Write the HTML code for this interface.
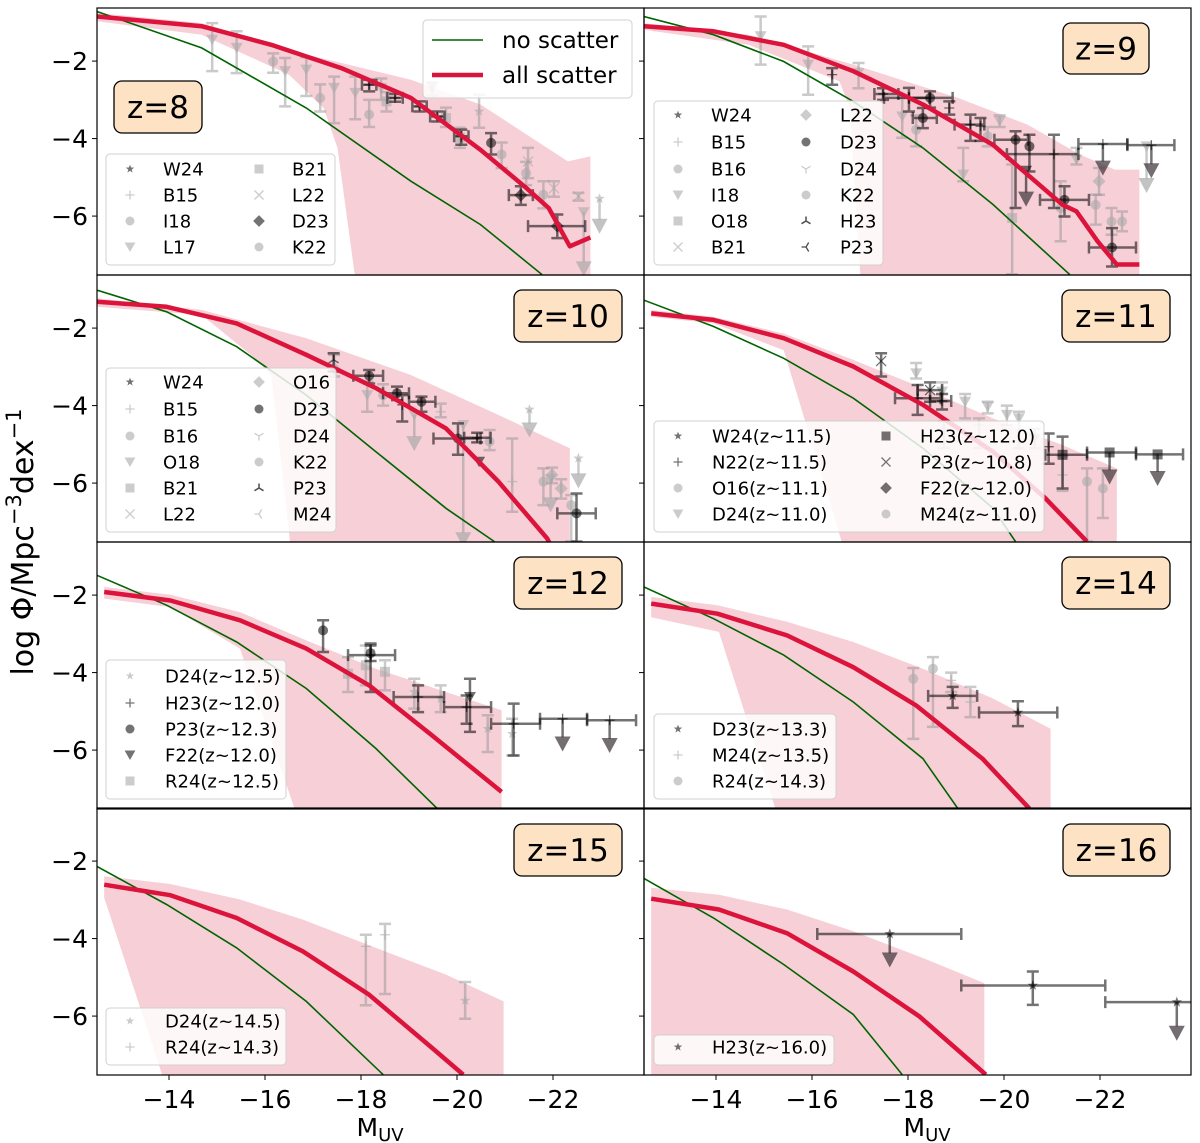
<!DOCTYPE html>
<html><head><meta charset="utf-8"><style>
html,body{margin:0;padding:0;background:#fff}
svg{display:block;font-family:"DejaVu Sans","Liberation Sans",sans-serif}
</style></head><body>
<svg id="fig" width="1200" height="1143" viewBox="0 0 1200 1143" xmlns="http://www.w3.org/2000/svg"></svg>
<script>
// ---------- data ----------
const xTicks = [-14,-16,-18,-20,-22];
const xTickLabels = ["−14","−16","−18","−20","−22"];
const yTicks = [-2,-4,-6];
const yTickLabels = ["−2","−4","−6"];
const redshifts = [8,9,10,11,12,14,15,16];

const red8M=[-12.5,-14.68,-16.13,-17.59,-19.04,-20.49,-21.44,-21.91,-22.35,-22.78];
const red8L=[-0.85,-1.10,-1.58,-2.18,-2.95,-4.29,-5.27,-5.79,-6.78,-6.55];
const grn8M=[-12.0,-12.5,-14.68,-16.86,-19.04,-20.49,-21.77];
const grn8L=[-0.4,-0.72,-1.66,-3.21,-5.10,-6.22,-7.51];
const upp8M=[-12.5,-14.68,-16.86,-19.04,-20.49,-22.31,-22.78,-22.78];
const upp8L=[-0.76,-1.02,-1.83,-2.48,-3.12,-4.59,-4.46,-7.6];
const low8M=[-12.5,-14.68,-16.5,-17.22,-17.51,-17.88];
const low8L=[-0.97,-1.32,-2.35,-3.21,-4.24,-7.6];

const red9M=[-12.5,-13.95,-15.41,-16.86,-18.31,-19.77,-20.49,-21.22,-21.51,-21.95,-22.35,-22.82];
const red9L=[-1.10,-1.23,-1.58,-2.26,-3.12,-4.16,-4.93,-5.71,-5.88,-6.65,-7.25,-7.25];
const grn9M=[-12.5,-13.95,-15.41,-16.86,-18.31,-19.77,-21.37];
const grn9L=[-0.85,-1.32,-2.01,-3.04,-4.24,-5.70,-7.51];
const upp9M=[-12.5,-14.68,-16.86,-19.04,-20.49,-21.58,-22.31,-22.82,-22.82];
const upp9L=[-1.02,-1.32,-2.09,-2.95,-3.64,-4.41,-4.80,-4.80,-7.6];
const low9M=[-12.5,-14.68,-16.57,-16.79,-17.01];
const low9L=[-1.19,-1.58,-2.52,-3.21,-7.6];

const red10M=[-12.5,-13.95,-15.41,-16.86,-18.31,-19.77,-20.86,-21.88,-21.95];
const red10L=[-1.32,-1.45,-1.88,-2.69,-3.55,-4.59,-5.96,-7.43,-7.6];
const grn10M=[-12.5,-13.95,-15.41,-16.86,-18.31,-19.77,-20.78];
const grn10L=[-1.02,-1.58,-2.48,-3.73,-5.19,-6.65,-7.51];
const upp10M=[-12.5,-14.68,-16.86,-19.04,-20.86,-22.35,-22.35];
const upp10L=[-1.23,-1.53,-2.26,-3.21,-4.24,-5.10,-7.6];
const low10M=[-12.5,-14.68,-15.7,-16.13,-16.53];
const low10L=[-1.45,-1.66,-2.69,-3.21,-7.6];

const red11M=[-12.65,-13.95,-15.41,-16.86,-18.31,-19.77,-20.86,-21.73];
const red11L=[-1.62,-1.79,-2.26,-2.99,-3.98,-5.19,-6.39,-7.51];
const grn11M=[-12.5,-13.95,-15.41,-16.86,-18.31,-19.77,-20.24];
const grn11L=[-1.28,-1.96,-2.78,-3.81,-5.10,-6.65,-7.51];
const upp11M=[-12.65,-13.95,-15.41,-16.86,-18.31,-19.77,-21.22,-22.35,-22.35];
const upp11L=[-1.53,-1.71,-2.14,-2.82,-3.55,-4.33,-5.02,-5.62,-7.6];
const low11M=[-12.65,-13.95,-15.41,-16.64];
const low11L=[-1.71,-1.88,-2.57,-7.6];

const red12M=[-12.65,-14.03,-15.48,-16.86,-18.17,-19.48,-20.93];
const red12L=[-1.92,-2.14,-2.65,-3.38,-4.33,-5.62,-7.08];
const grn12M=[-12.5,-13.95,-15.41,-16.86,-18.31,-19.59];
const grn12L=[-1.49,-2.26,-3.21,-4.41,-5.96,-7.51];
const upp12M=[-12.65,-14.03,-15.48,-16.86,-18.31,-19.77,-20.93,-20.93];
const upp12L=[-1.79,-1.99,-2.44,-3.17,-3.90,-4.50,-4.97,-7.6];
const low12M=[-12.65,-14.03,-15.48,-16.64];
const low12L=[-2.09,-2.31,-3.38,-7.6];

const red14M=[-12.65,-14.03,-15.48,-16.86,-18.17,-19.55,-20.53];
const red14L=[-2.22,-2.48,-3.04,-3.86,-4.85,-6.22,-7.51];
const grn14M=[-12.5,-13.95,-15.41,-16.86,-18.31,-19.04];
const grn14L=[-1.79,-2.61,-3.55,-4.76,-6.22,-7.51];
const upp14M=[-12.65,-14.03,-15.48,-16.86,-18.31,-19.77,-20.97,-20.97];
const upp14L=[-2.05,-2.26,-2.69,-3.21,-3.90,-4.67,-5.45,-7.6];
const low14M=[-12.65,-14.06,-15.26];
const low14L=[-2.57,-2.95,-7.6];

const red15M=[-12.65,-14.03,-15.41,-16.79,-18.17,-19.48,-20.13];
const red15L=[-2.61,-2.88,-3.47,-4.33,-5.45,-6.82,-7.51];
const grn15M=[-12.5,-13.95,-15.41,-16.86,-18.46];
const grn15L=[-2.14,-3.12,-4.24,-5.62,-7.51];
const upp15M=[-12.65,-14.03,-15.48,-16.79,-18.31,-19.77,-20.97,-20.97];
const upp15L=[-2.39,-2.59,-2.99,-3.51,-4.24,-4.93,-5.62,-7.6];
const low15M=[-12.65,-12.72,-13.88];
const low15L=[-2.95,-3.21,-7.6];

const red16M=[-12.65,-14.06,-15.48,-16.86,-18.24,-19.62];
const red16L=[-2.97,-3.25,-3.86,-4.85,-6.01,-7.51];
const grn16M=[-12.5,-13.95,-15.41,-16.86,-17.88];
const grn16L=[-2.45,-3.47,-4.67,-5.96,-7.51];
const upp16M=[-12.65,-14.06,-15.48,-16.86,-18.31,-19.59,-19.59];
const upp16L=[-2.69,-2.87,-3.25,-3.81,-4.50,-5.15,-7.6];
const low16M=[-12.65,-12.65];
const low16L=[-2.69,-7.6];

// points: [M, logPhi, yLow, yHigh, xLeft, xRight, marker, tone, upperLimit]
const pts8=[[-14.9,-1.45,-2.26,-1.02,0,0,'v','g',0],[-15.41,-1.66,-2.31,-1.23,0,0,'v','g',0],[-16.17,-2.01,-2.3,-1.8,0,0,'o','g',0],[-16.42,-2.26,-3.17,-1.92,0,0,'v','g',0],[-16.86,-2.22,-2.9,-1.9,0,0,'v','g',0],[-17.15,-2.95,-3.3,-2.6,0,0,'o','g',0],[-17.44,-2.69,-3.6,-2.4,0,0,'v','g',0],[-17.88,-2.82,-3.5,-2.4,0,0,'v','g',0],[-18.17,-3.38,-3.7,-3.0,0,0,'o','g',0],[-18.42,-2.69,-3.0,-2.45,0,0,'v','g',0],[-18.53,-3.04,-3.3,-2.8,0,0,'s','g',0],[-19.48,-2.69,-2.9,-2.55,0,0,'v','g',0],[-19.77,-3.47,-3.7,-3.2,0,0,'s','g',0],[-20.06,-3.98,-4.24,-3.72,0,0,'s','g',0],[-20.46,-3.3,-3.72,-2.87,0,0,'*','g',0],[-20.93,-4.41,-4.76,-4.1,0,0,'o','g',0],[-21.48,-4.59,-5.02,-4.24,0,0,'x','g',0],[-21.44,-4.89,-5.2,-4.6,0,0,'o','g',0],[-21.8,-5.45,-5.8,-5.1,0,0,'h','g',0],[-22.02,-5.28,-5.5,-5.1,0,0,'x','g',0],[-22.53,-5.49,-5.6,-5.4,0,0,'x','g',0],[-22.64,-5.9,-7.4,0,0,0,'v','g',1],[-22.97,-5.55,-6.3,0,0,0,'*','g',1],
[-18.17,-2.61,-2.78,-2.48,-18.02,-18.32,'+','d',0],[-18.71,-2.95,-3.05,-2.85,-18.55,-18.87,'+','d',0],[-19.22,-3.17,-3.3,-3.04,-19.07,-19.37,'+','d',0],[-19.59,-3.43,-3.56,-3.3,-19.44,-19.74,'+','d',0],[-20.09,-3.94,-4.16,-3.77,-19.94,-20.24,'+','d',0],[-20.71,-4.11,-4.41,-3.86,0,0,'h','d',0],[-21.33,-5.46,-5.71,-5.23,-21.08,-21.58,'D','d',0],[-22.09,-6.26,-6.57,-5.96,-21.48,-22.67,'D','d',0]];
const pts9=[[-14.93,-1.36,-2.09,-0.85,0,0,'v','g',0],[-15.92,-2.09,-2.87,-1.62,0,0,'v','g',0],[-16.97,-2.31,-2.7,-2.05,0,0,'v','g',0],[-17.88,-3.43,-3.98,-2.95,0,0,'v','g',0],[-18.17,-3.77,-4.2,-3.4,0,0,'o','g',0],[-19.15,-4.93,-5.1,-4.24,0,0,'v','g',0],[-19.66,-3.94,-4.2,-3.7,0,0,'o','g',0],[-19.91,-3.55,-3.7,-3.4,0,0,'v','g',0],[-20.17,-6.05,-7.5,-4.67,0,0,'s','g',0],[-21.18,-5.79,-6.65,-5.1,0,0,'o','g',0],[-21.51,-4.54,-4.67,-4.24,0,0,'v','g',0],[-21.98,-5.1,-5.45,-4.76,0,0,'D','g',0],[-21.91,-5.71,-6.22,-5.45,0,0,'o','g',0],[-22.24,-6.14,-6.48,-5.79,0,0,'o','g',0],[-22.46,-6.14,-6.39,-5.88,0,0,'o','g',0],[-22.97,-4.2,-5.25,0,0,0,'v','g',1],
[-16.42,-2.35,-2.61,-2.18,0,0,'+','d',0],[-17.48,-2.85,-3.0,-2.7,-17.3,-17.8,'+','d',0],[-18.02,-2.95,-3.3,-2.69,-17.5,-18.45,'+','d',0],[-18.46,-2.95,-3.2,-2.78,-18.02,-18.93,'h','d',0],[-18.86,-3.21,-3.38,-3.04,0,0,'+','d',0],[-18.31,-3.47,-3.73,-3.21,-18.1,-18.6,'h','d',0],[-19.3,-3.64,-4.06,-3.38,-18.97,-19.59,'+','d',0],[-19.51,-3.68,-4.06,-3.47,0,0,'+','d',0],[-20.24,-4.03,-5.79,-3.81,-19.8,-20.5,'h','d',0],[-20.53,-4.2,-4.85,-3.9,0,0,'h','d',0],[-20.46,-4.83,-5.6,0,0,0,'v','d',1],[-21.04,-4.4,-5.79,-3.9,-20.06,-21.55,'+','d',0],[-21.26,-5.58,-6.01,-5.23,-20.75,-21.77,'h','d',0],[-22.06,-4.14,-4.8,0,-21.55,-22.57,'+','d',1],[-23.07,-4.17,-4.87,0,-22.57,-23.55,'+','d',1],[-22.25,-6.81,-7.3,-6.31,-21.77,-22.75,'h','d',0]];
const pts10=[[-17.44,-3.04,-3.25,-2.69,0,0,'D','g',0],[-18.13,-3.73,-4.16,-3.38,0,0,'v','g',0],[-18.46,-3.73,-4.0,-3.45,0,0,'o','g',0],[-19.11,-4.24,-5.02,0,0,0,'v','g',1],[-19.66,-4.16,-4.3,-3.95,0,0,'+','g',0],[-20.13,-4.5,-7.5,0,0,0,'v','g',1],[-20.68,-4.93,-5.15,-4.63,0,0,'o','g',0],[-21.15,-5.96,-6.74,-4.85,0,0,'+','g',0],[-21.51,-4.1,-4.67,0,0,0,'*','g',1],[-21.8,-5.96,-6.57,-5.62,0,0,'o','g',0],[-21.98,-5.79,-6.0,-5.6,0,0,'D','g',0],[-21.95,-5.9,-6.6,0,0,0,'v','g',1],[-22.17,-6.14,-6.4,-5.9,0,0,'D','g',0],[-22.53,-5.36,-5.98,0,0,0,'*','g',1],[-22.38,-6.57,-7.5,-6.31,0,0,'o','g',0],
[-17.43,-2.82,-3.12,-2.65,0,0,'T','d',0],[-18.17,-3.23,-3.43,-3.08,-17.84,-18.46,'h','d',0],[-18.75,-3.68,-3.86,-3.51,-18.46,-19.0,'h','d',0],[-18.86,-3.98,-4.41,-3.73,0,0,'+','d',0],[-19.26,-3.9,-4.16,-3.77,-19.0,-19.55,'h','d',0],[-20.02,-4.85,-5.27,-4.46,-19.51,-20.49,'h','d',0],[-20.42,-4.83,-4.95,-4.7,-20.15,-20.7,'+','d',0],[-20.46,-5.45,-5.45,-5.45,0,0,'v','d',0],[-22.49,-6.78,-7.51,-6.27,-22.09,-22.89,'h','d',0]];
const pts11=[[-18.17,-3.17,-3.3,-2.9,0,0,'v','g',0],[-18.71,-3.64,-3.9,-3.4,0,0,'v','g',0],[-19.19,-3.9,-4.33,-3.7,0,0,'v','g',0],[-19.66,-4.03,-4.2,-3.9,0,0,'v','g',0],[-20.06,-4.24,-4.5,-4.0,0,0,'v','g',0],[-20.31,-4.33,-5.1,-4.16,0,0,'v','g',0],[-20.64,-4.85,-5.1,-4.6,0,0,'v','g',0],[-19.48,-4.5,-5.1,-4.33,0,0,'+','g',0],[-18.75,-4.59,-5.1,-4.4,0,0,'+','g',0],[-21.73,-5.96,-7.51,-5.62,0,0,'h','g',0],[-22.06,-6.14,-6.9,-5.62,0,0,'o','g',0],[-21.22,-5.79,-6.2,-5.3,0,0,'+','g',0],
[-17.44,-2.85,-3.25,-2.65,0,0,'x','d',0],[-18.2,-3.81,-4.24,-3.47,-17.73,-18.68,'+','d',0],[-18.46,-3.6,-3.9,-3.4,-18.2,-18.71,'x','d',0],[-18.71,-3.88,-4.1,-3.7,-18.46,-18.9,'+','d',0],[-20.93,-5.06,-5.5,-4.72,0,0,'+','d',0],[-21.22,-5.27,-6.14,-4.8,-20.86,-21.73,'s','d',0],[-22.2,-5.21,-5.88,0,-21.73,-22.75,'s','d',1],[-23.2,-5.26,-5.92,0,-22.75,-23.73,'s','d',1]];
const pts12=[[-17.73,-4.03,-4.5,-3.6,0,0,'s','g',0],[-18.1,-3.81,-4.33,-3.3,0,0,'s','g',0],[-18.5,-3.98,-4.46,-3.68,0,0,'s','g',0],[-19.11,-4.5,-4.93,-4.16,0,0,'*','g',0],[-19.66,-4.67,-5.02,-4.33,0,0,'*','g',0],[-20.64,-5.45,-6.05,-5.1,0,0,'*','g',0],[-21.15,-5.58,-6.14,-5.19,0,0,'*','g',0],
[-17.21,-2.91,-3.47,-2.65,0,0,'o','d',0],[-18.2,-3.55,-4.5,-3.25,-17.73,-18.71,'+','d',0],[-18.2,-3.5,-3.7,-3.3,0,0,'o','d',0],[-19.19,-4.63,-5.02,-4.33,-18.68,-19.73,'+','d',0],[-20.2,-4.89,-5.32,-4.59,-19.73,-20.71,'+','d',0],[-20.27,-4.63,-5.53,-4.16,0,0,'v','d',0],[-21.18,-5.32,-6.14,-4.8,-20.71,-21.73,'+','d',0],[-22.2,-5.19,-5.88,0,-21.73,-22.71,'+','d',1],[-23.18,-5.23,-5.92,0,-22.71,-23.73,'+','d',1]];
const pts14=[[-18.11,-4.16,-5.71,-3.88,0,0,'o','g',0],[-18.52,-3.9,-5.4,-3.6,0,0,'o','g',0],[-18.9,-4.2,-4.5,-4.0,0,0,'+','g',0],[-19.3,-4.76,-5.15,-4.37,0,0,'+','g',0],[-18.93,-4.6,-4.91,-4.37,-18.42,-19.44,'*','d',0],[-20.29,-5.03,-5.38,-4.74,-19.48,-21.11,'*','d',0]];
const pts15=[[-18.1,-4.2,-5.72,-3.9,0,0,'+','g',0],[-18.5,-3.9,-5.43,-3.62,0,0,'+','g',0],[-20.17,-5.6,-6.07,-5.12,0,0,'*','g',0]];
const pts16=[[-17.62,-3.88,-4.59,0,-16.11,-19.11,'*','d',1],[-20.6,-5.21,-5.71,-4.85,-19.11,-22.11,'*','d',0],[-23.6,-5.64,-6.48,0,-22.11,-25.1,'*','d',1]];

// legends: [label, marker, tone]
const leg8=[["W24","*","m"],["B15","+","g"],["I18","o","g"],["L17","v","g"],["B21","s","g"],["L22","x","g"],["D23","D","m"],["K22","h","g"]];
const leg9=[["W24","*","m"],["B15","+","g"],["B16","o","g"],["I18","v","g"],["O18","s","g"],["B21","x","g"],["L22","D","g"],["D23","h","m"],["D24","Y","g"],["K22","o","g"],["H23","T","d"],["P23","L","d"]];
const leg10=[["W24","*","m"],["B15","+","g"],["B16","o","g"],["O18","v","g"],["B21","s","g"],["L22","x","g"],["O16","D","g"],["D23","h","m"],["D24","Y","g"],["K22","o","g"],["P23","T","d"],["M24","L","g"]];
const leg11=[["W24(z~11.5)","*","m"],["N22(z~11.5)","+","m"],["O16(z~11.1)","o","g"],["D24(z~11.0)","v","g"],["H23(z~12.0)","s","m"],["P23(z~10.8)","x","m"],["F22(z~12.0)","D","m"],["M24(z~11.0)","h","g"]];
const leg12=[["D24(z~12.5)","*","g"],["H23(z~12.0)","+","m"],["P23(z~12.3)","o","m"],["F22(z~12.0)","v","m"],["R24(z~12.5)","s","g"]];
const leg14=[["D23(z~13.3)","*","m"],["M24(z~13.5)","+","g"],["R24(z~14.3)","o","g"]];
const leg15=[["D24(z~14.5)","*","g"],["R24(z~14.3)","+","g"]];
const leg16=[["H23(z~16.0)","*","m"]];

// ---------- layout ----------
const NS="http://www.w3.org/2000/svg";
const svg=document.getElementById('fig');
const colX=[97,644], rowY=[8,275,542,808], PW=547, PH=267;
const XMIN=-12.5, XPX=48, YTOP=-0.63, YPX=38.75;
function xs(M,c){return colX[c]+(XMIN-M)*XPX;}
function ys(L,r){return rowY[r]+(YTOP-L)*YPX;}
function mk(tag,attrs,parent){const e=document.createElementNS(NS,tag);for(const k in attrs)e.setAttribute(k,attrs[k]);(parent||svg).appendChild(e);return e;}

function marker(g,m,x,y,s,fill){
  let e;
  if(m==='o'||m==='h'){e=mk('circle',{cx:x,cy:y,r:s,fill:fill},g);}
  else if(m==='s'){e=mk('rect',{x:x-s,y:y-s,width:2*s,height:2*s,fill:fill},g);}
  else if(m==='D'){e=mk('polygon',{points:`${x},${y-s*1.3} ${x+s*1.3},${y} ${x},${y+s*1.3} ${x-s*1.3},${y}`,fill:fill},g);}
  else if(m==='v'){e=mk('polygon',{points:`${x-s*1.2},${y-s} ${x+s*1.2},${y-s} ${x},${y+s*1.1}`,fill:fill},g);}
  else if(m==='*'){let p=[];for(let i=0;i<10;i++){const a=-Math.PI/2+i*Math.PI/5,rr=i%2?s*0.45:s*1.1;p.push((x+rr*Math.cos(a)).toFixed(1)+','+(y+rr*Math.sin(a)).toFixed(1));}e=mk('polygon',{points:p.join(' '),fill:fill},g);}
  else if(m==='+'){e=mk('path',{d:`M${x-s} ${y}H${x+s}M${x} ${y-s}V${y+s}`,stroke:fill,'stroke-width':1.3,fill:'none'},g);}
  else if(m==='x'){e=mk('path',{d:`M${x-s} ${y-s}L${x+s} ${y+s}M${x-s} ${y+s}L${x+s} ${y-s}`,stroke:fill,'stroke-width':1.3,fill:'none'},g);}
  else if(m==='Y'){e=mk('path',{d:`M${x} ${y}V${y+s}M${x} ${y}L${x-s} ${y-s*0.6}M${x} ${y}L${x+s} ${y-s*0.6}`,stroke:fill,'stroke-width':1.3,fill:'none'},g);}
  else if(m==='T'){e=mk('path',{d:`M${x} ${y}V${y-s}M${x} ${y}L${x-s} ${y+s*0.6}M${x} ${y}L${x+s} ${y+s*0.6}`,stroke:fill,'stroke-width':1.5,fill:'none'},g);}
  else {e=mk('path',{d:`M${x} ${y}H${x-s}M${x} ${y}L${x+s*0.6} ${y-s}M${x} ${y}L${x+s*0.6} ${y+s}`,stroke:fill,'stroke-width':1.3,fill:'none'},g);}
  return e;
}

const panelDefs=[
 {z:8,c:0,r:0,red:[red8M,red8L],grn:[grn8M,grn8L],up:[upp8M,upp8L],lo:[low8M,low8L],pts:pts8,leg:leg8,box:[17,73,88,52],lb:[9,146,229,111],rows:[161,187,213,239],cols:[[33,66],[162,195]]},
 {z:9,c:1,r:0,red:[red9M,red9L],grn:[grn9M,grn9L],up:[upp9M,upp9L],lo:[low9M,low9L],pts:pts9,leg:leg9,box:[419,15,86,51],lb:[10,93,229,164],rows:[107,134,161,187,213,239],cols:[[34,67],[162,196]]},
 {z:10,c:0,r:1,red:[red10M,red10L],grn:[grn10M,grn10L],up:[upp10M,upp10L],lo:[low10M,low10L],pts:pts10,leg:leg10,box:[417,15,108,52],lb:[9,93,230,164],rows:[107,134,161,187,213,239],cols:[[33,66],[162,196]]},
 {z:11,c:1,r:1,red:[red11M,red11L],grn:[grn11M,grn11L],up:[upp11M,upp11L],lo:[low11M,low11L],pts:pts11,leg:leg11,box:[418,15,108,52],lb:[10,146,390,111],rows:[161,187,213,239],cols:[[34,68],[242,276]]},
 {z:12,c:0,r:2,red:[red12M,red12L],grn:[grn12M,grn12L],up:[upp12M,upp12L],lo:[low12M,low12L],pts:pts12,leg:leg12,box:[417,15,108,52],lb:[9,118,180,139],rows:[134,161,187,213,239],cols:[[33,68]]},
 {z:14,c:1,r:2,red:[red14M,red14L],grn:[grn14M,grn14L],up:[upp14M,upp14L],lo:[low14M,low14L],pts:pts14,leg:leg14,box:[418,15,108,52],lb:[10,172,182,85],rows:[187,213,239],cols:[[34,68]]},
 {z:15,c:0,r:3,red:[red15M,red15L],grn:[grn15M,grn15L],up:[upp15M,upp15L],lo:[low15M,low15L],pts:pts15,leg:leg15,box:[417,16,108,52],lb:[9,200,180,57],rows:[213,239],cols:[[33,68]]},
 {z:16,c:1,r:3,red:[red16M,red16L],grn:[grn16M,grn16L],up:[upp16M,upp16L],lo:[low16M,low16L],pts:pts16,leg:leg16,box:[419,16,107,52],lb:[10,227,180,30],rows:[239],cols:[[34,68]]}
];

const defs=mk('defs',{});
panelDefs.forEach((p,i)=>{
  const c=p.c,r=p.r,X0=colX[c],Y0=rowY[r];
  const cp=mk('clipPath',{id:'clip'+i},defs);
  mk('rect',{x:X0,y:Y0,width:PW,height:PH},cp);
  const g=mk('g',{'clip-path':`url(#clip${i})`});
  
  
  let pp=[];
  p.up[0].forEach((M,k)=>pp.push(xs(M,c).toFixed(1)+','+ys(p.up[1][k],r).toFixed(1)));
  for(let k=p.lo[0].length-1;k>=0;k--)pp.push(xs(p.lo[0][k],c).toFixed(1)+','+ys(p.lo[1][k],r).toFixed(1));
  const band=mk('polygon',{points:pp.join(' '),fill:'rgb(247,207,215)'},g);
  
  
  const pg=mk('g',{},g);
  
  
  p.pts.forEach(d=>{
    const [M,L,lo,hi,xl,xr,m,t,ul]=d;
    const x=xs(M,c),y=ys(L,r);
    const col=t==='g'?'rgba(150,150,150,0.5)':'rgba(0,0,0,0.55)';
    const mf=t==='g'?'rgba(170,170,170,0.6)':'rgba(0,0,0,0.55)';
    const eg=mk('g',{},pg);
    
    
    if(xl!==0){const a=xs(xl,c),b=xs(xr,c);
      mk('path',{d:`M${a} ${y}H${b}M${a} ${y-6}V${y+6}M${b} ${y-6}V${y+6}`,stroke:col,'stroke-width':2.5,fill:'none'},eg);}
    if(ul){const ye=ys(lo,r);
      mk('line',{x1:x,y1:y,x2:x,y2:ye-8,stroke:col,'stroke-width':2.5},eg);
      mk('polygon',{points:`${x-8},${ye-9} ${x+8},${ye-9} ${x},${ye+6}`,fill:t==='g'?'rgba(170,170,170,0.7)':'rgba(70,60,65,0.75)'},eg);
    } else if(lo!==hi){const a=ys(hi,r),b=ys(lo,r);
      mk('path',{d:`M${x} ${a}V${b}M${x-6} ${a}H${x+6}M${x-6} ${b}H${x+6}`,stroke:col,'stroke-width':2.5,fill:'none'},eg);}
    marker(eg,m,x,y,5,mf);
  });
  const gl=mk('polyline',{points:p.grn[0].map((M,k)=>xs(M,c).toFixed(1)+','+ys(p.grn[1][k],r).toFixed(1)).join(' '),fill:'none',stroke:'#006400','stroke-width':1.6},g);
  
  
  const rl=mk('polyline',{points:p.red[0].map((M,k)=>xs(M,c).toFixed(1)+','+ys(p.red[1][k],r).toFixed(1)).join(' '),fill:'none',stroke:'#dc143c','stroke-width':4.5,'stroke-linejoin':'round'},g);
  
  
  const zb=mk('g',{},g);
  
  
  mk('rect',{x:X0+p.box[0],y:Y0+p.box[1],width:p.box[2],height:p.box[3],rx:8,fill:'#fde3c4',stroke:'#000','stroke-width':1.3},zb);
  const zt=mk('text',{x:X0+p.box[0]+p.box[2]/2,y:Y0+p.box[1]+p.box[3]/2+11,'font-size':31,'text-anchor':'middle',fill:'#000'},zb);
  zt.textContent='z='+p.z;
  const lg=mk('g',{},g);
  
  
  mk('rect',{x:X0+p.lb[0],y:Y0+p.lb[1],width:p.lb[2],height:p.lb[3],rx:4,fill:'rgba(255,255,255,0.82)',stroke:'#d0d0d0','stroke-width':1},lg);
  const nr=p.rows.length;
  p.leg.forEach((e,k)=>{
    const ci=Math.floor(k/nr), ri=k%nr;
    const cc=p.cols[ci], yy=Y0+p.rows[ri];
    const fill=e[2]==='g'?'rgba(170,170,170,0.6)':(e[2]==='m'?'rgba(0,0,0,0.55)':'rgba(0,0,0,0.7)');
    const it=mk('g',{},lg);
    
    
    marker(it,e[1],X0+cc[0],yy,e[1]==='*'?4:4.5,fill);
    const tx=mk('text',{x:X0+cc[1],y:yy+6.5,'font-size':18,fill:'#000'},it);
    tx.textContent=e[0];
  });
  if(p.z===8){
    const ml=mk('g',{},g);
    
    
    mk('rect',{x:X0+326,y:Y0+12,width:209,height:78,rx:4,fill:'rgba(255,255,255,0.85)',stroke:'#d0d0d0'},ml);
    mk('line',{x1:X0+335,y1:Y0+32,x2:X0+386,y2:Y0+32,stroke:'#006400','stroke-width':1.6},ml);
    mk('line',{x1:X0+335,y1:Y0+67,x2:X0+386,y2:Y0+67,stroke:'#dc143c','stroke-width':4.5},ml);
    const t1=mk('text',{x:X0+405,y:Y0+40,'font-size':23},ml);t1.textContent='no scatter';
    const t2=mk('text',{x:X0+405,y:Y0+75,'font-size':23},ml);t2.textContent='all scatter';
  }
  const fr=mk('rect',{x:X0,y:Y0,width:PW,height:PH,fill:'none',stroke:'#000','stroke-width':1.2});
  
  
  yTicks.forEach((v,k)=>{
    const y=ys(v,r);
    mk('line',{x1:X0-5,y1:y,x2:X0,y2:y,stroke:'#000','stroke-width':1});
    if(c===0){const t=mk('text',{x:X0-9,y:y+9,'font-size':25,'text-anchor':'end'});
      
      
      t.textContent=yTickLabels[k];}
  });
  if(r===3){
    xTicks.forEach((v,k)=>{
      const x=xs(v,c);
      mk('line',{x1:x,y1:Y0+PH,x2:x,y2:Y0+PH+5,stroke:'#000','stroke-width':1});
      const t=mk('text',{x:x,y:1108,'font-size':25,'text-anchor':'middle'});
      
      
      t.textContent=xTickLabels[k];
    });
    const xt=mk('text',{x:X0+PW/2-14,y:1136,'font-size':25});
    
    
    xt.innerHTML='M<tspan font-size="18" dy="5">UV</tspan>';
  }
});
const yt=mk('text',{x:0,y:0,'font-size':30,'text-anchor':'middle',transform:'translate(33,542) rotate(-90)'});


yt.innerHTML='log Φ/Mpc<tspan font-size="21" dy="-12">−3</tspan><tspan dy="12">dex</tspan><tspan font-size="21" dy="-12">−1</tspan>';
</script>
</body></html>
